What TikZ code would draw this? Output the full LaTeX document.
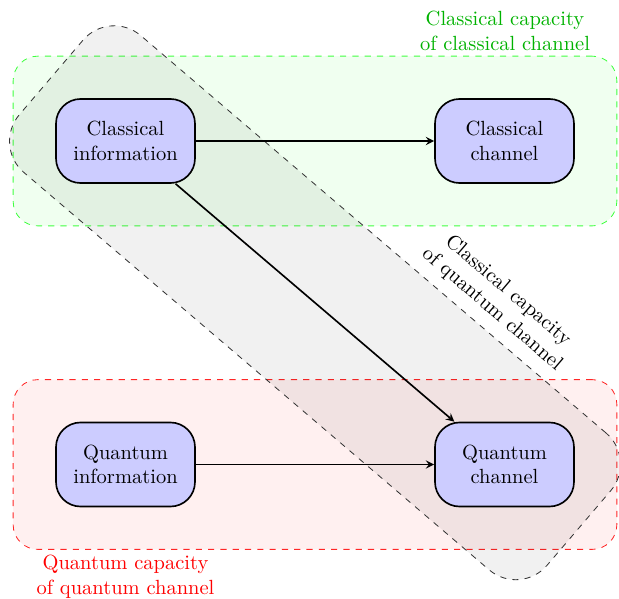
\documentclass[tikz,border=0pt]{standalone}
\usetikzlibrary{fit,backgrounds,arrows,calc}
\begin{document}
\begin{tikzpicture}[x=0.4878pt,y=-0.4878pt,
  box/.style={draw,thick,fill=blue!20,rounded corners=12pt,minimum width=67.8pt,minimum height=41pt,align=center,inner sep=2pt},
  conn/.style={thick,-stealth},
  zone/.style={dashed,rounded corners=12pt,inner sep=20.5pt},
  capnote/.style={align=center}]
\useasboundingbox (0,0) rectangle (619,599);
\node[box] (ci) at (125.5,141) {Classical\\information};
\node[box] (cc) at (504.5,141) {Classical\\channel};
\node[box] (qi) at (125.5,464.5) {Quantum\\information};
\node[box] (qc) at (504.5,464.5) {Quantum\\channel};
\begin{scope}[on background layer]
\node[zone,draw=green!75,fill=green!6,fit=(ci)(cc)] (gz) {};
\node[zone,draw=red!85,fill=red!6,fit=(qi)(qc)] (rz) {};
\node[draw=black!80,dashed,fill=black,fill opacity=0.055,rounded corners=20pt,rotate=-40.5,minimum width=338.5pt,minimum height=87.8pt] (dz) at ($(ci)!0.5!(qc)$) {};
\end{scope}
\draw[conn] (ci) -- (cc);
\draw[conn] (qi) -- (qc);
\draw[conn] (ci) -- (qc);
\node[capnote,text=green!70!black] (gl) at (505,31) {Classical capacity\\of classical channel};
\node[capnote,text=red] (rl) at (125.5,577) {Quantum capacity\\of quantum channel};
\node[capnote,rotate=-40.5] (dl) at (500,300) {Classical capacity\\of quantum channel};
\end{tikzpicture}
\end{document}
